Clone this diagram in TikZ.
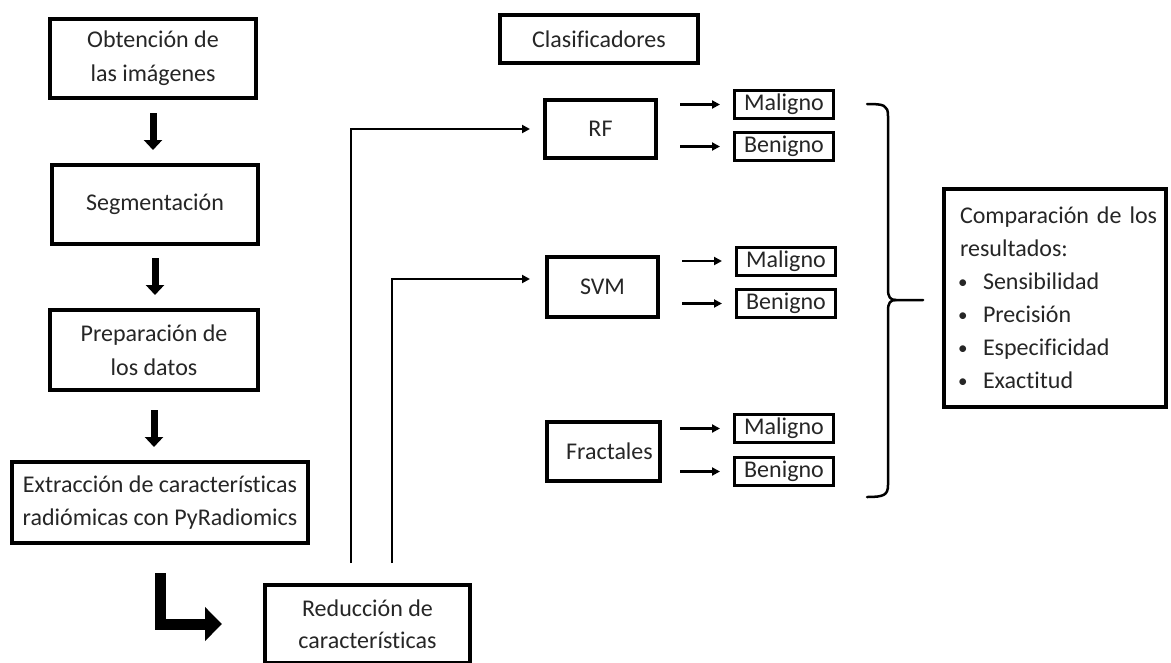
\documentclass[tikz,border=0pt]{standalone}
\usepackage{fontspec}
\setmainfont{Carlito}[Ligatures={NoCommon}]
\usetikzlibrary{arrows.meta}
\newcommand{\blt}{\hspace*{5pt}\makebox[25pt][l]{\raisebox{1pt}{\fontsize{19}{19}\selectfont\textbullet}}}
\begin{document}
\begin{tikzpicture}[x=1pt,y=-1pt,
  box/.style={draw, line width=4pt, align=center, inner sep=0pt, text=black!85,
    font=\fontsize{24}{34}\selectfont},
  small/.style={draw, line width=3pt, align=center, inner sep=0pt, text=black!85,
    minimum width=99pt, minimum height=28pt, font=\fontsize{24}{30}\selectfont},
  blockarrow/.style={line width=7pt, -{Triangle[length=10pt,width=18pt]}},
  thinarrow/.style={line width=2.6pt, -{Triangle[length=8pt,width=8pt]}},
  feed/.style={line width=2.8pt, -{Triangle[length=8pt,width=8pt]}},
  brace/.style={line width=2.5pt, line cap=round, line join=round}
]
\useasboundingbox (0,0) rectangle (1171,662);
\fill[white] (0,0) rectangle (1171,662);

% left column
\node[box, minimum width=206pt, minimum height=79pt] (b1) at (153,58.5) {Obtención de\\las imágenes};
\node[box, minimum width=206pt, minimum height=79pt] (b2) at (155,204.5) {Segmentación};
\node[box, minimum width=208pt, minimum height=80pt] (b3) at (154,350) {Preparación de\\los datos};
\node[box, minimum width=296pt, minimum height=81pt, font=\fontsize{24}{33}\selectfont] (b4) at (160,502.5) {Extracción de características\\radiómicas con PyRadiomics};
\node[box, minimum width=205pt, minimum height=78pt, font=\fontsize{24}{32}\selectfont] (red) at (367.5,624) {Reducción de\\características};

\draw[blockarrow, shorten <=13pt, shorten >=13pt] (b1.south) -- (b1.south |- b2.north);
\draw[blockarrow, shorten <=12pt, shorten >=13pt] (b2.south) -- (b2.south |- b3.north);
\draw[blockarrow, shorten <=18pt, shorten >=13pt] (b3.south) -- (b3.south |- b4.north);
\draw[line width=11pt, -{Triangle[length=17pt,width=33pt]}, shorten <=28pt, shorten >=41pt] (b4.south) |- (red.west);

% classifiers
\node[box, minimum width=198pt, minimum height=48pt] (clas) at (599,39) {Clasificadores};
\node[box, minimum width=111pt, minimum height=58pt] (rf) at (600.5,129) {RF};
\node[box, minimum width=111pt, minimum height=60pt] (svm) at (602.5,287) {SVM};
\node[box, minimum width=113pt, minimum height=59pt] (frac) at (603.5,451.5) {\hspace{12pt}Fractales};

\draw[feed, shorten <=20pt, shorten >=13pt] ([xshift=-16.5pt]red.north) |- (rf.west);
\draw[feed, shorten <=20pt, shorten >=15pt] ([xshift=24.5pt]red.north) |- ([yshift=8pt]svm.west);

% outcomes
\node[small] (rfm) at (784,104.5) {Maligno};
\node[small] (rfb) at (784,146.5) {Benigno};
\node[small] (svmm) at (786,261) {Maligno};
\node[small] (svmb) at (786,303.5) {Benigno};
\node[small] (fracm) at (784,428.5) {Maligno};
\node[small] (fracb) at (784,471.5) {Benigno};

\draw[thinarrow, shorten <=22pt, shorten >=13pt] (rf.east |- rfm.west) -- (rfm.west);
\draw[thinarrow, shorten <=22pt, shorten >=13pt] (rf.east |- rfb.west) -- (rfb.west);
\draw[thinarrow, shorten <=22pt, shorten >=13pt] (svm.east |- svmm.west) -- (svmm.west);
\draw[thinarrow, shorten <=22pt, shorten >=13pt] (svm.east |- svmb.west) -- (svmb.west);
\draw[thinarrow, shorten <=18pt, shorten >=13pt] (frac.east |- fracm.west) -- (fracm.west);
\draw[thinarrow, shorten <=18pt, shorten >=13pt] (frac.east |- fracb.west) -- (fracb.west);

% comparison
\node[draw, line width=4pt, minimum width=222pt, minimum height=218pt, text width=204pt,
  inner xsep=9pt, inner ysep=0pt, align=left, text=black!85,
  font=\fontsize{24}{33}\selectfont] (comp) at (1055,298)
  {\mbox{\hspace*{7pt}Comparación de los}\\\mbox{\hspace*{7pt}resultados:}\\
   \mbox{\blt Sensibilidad}\\
   \mbox{\blt Precisión}\\
   \mbox{\blt Especificidad}\\
   \mbox{\blt Exactitud}};

% brace
\coordinate (btop) at (867,104);
\coordinate (bbot) at (867,497);
\coordinate (btip) at (comp.west |- 0,300);
\draw[brace] (btop) .. controls (884,104) and (888,105) .. (888,116) -- (888,289)
  .. controls (888,297) and (890,300) .. (896,300) -- ([xshift=-19pt]btip);
\draw[brace] (896,300) .. controls (890,300) and (888,303) .. (888,311) -- (888,485)
  .. controls (888,495) and (884,497) .. (bbot);
\end{tikzpicture}
\end{document}
